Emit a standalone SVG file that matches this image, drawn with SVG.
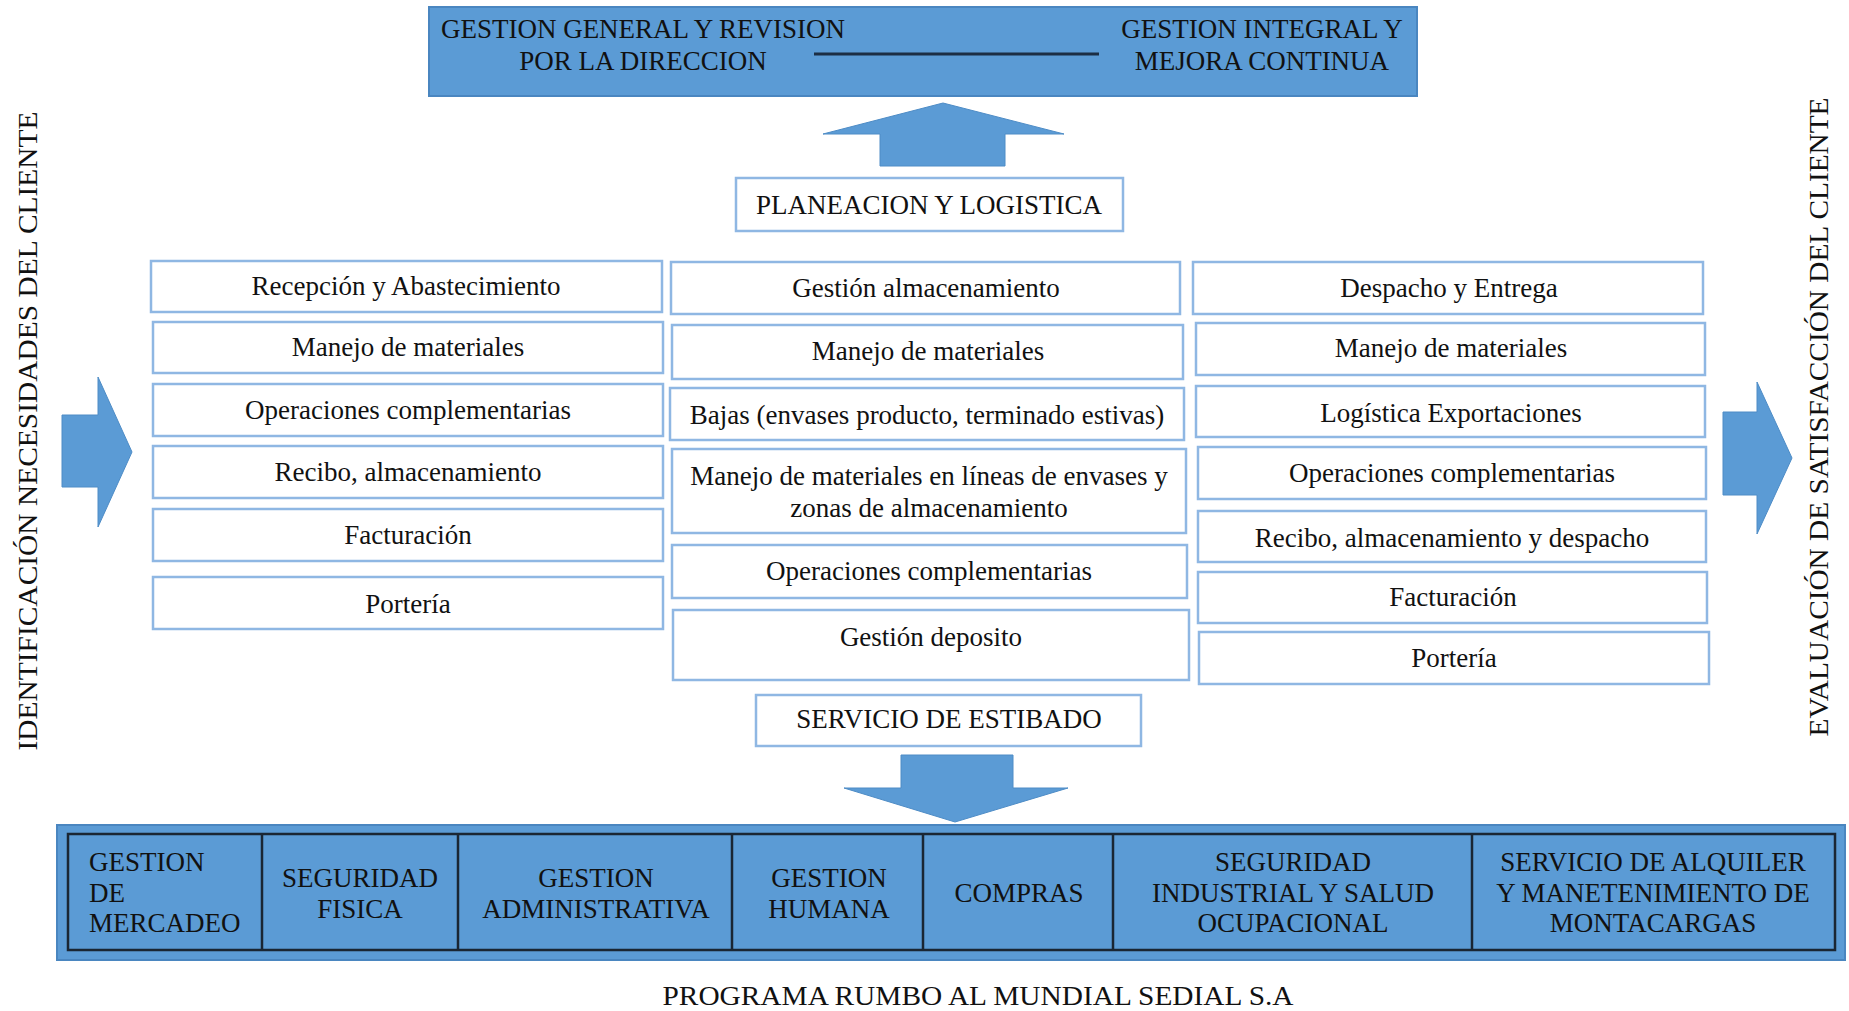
<svg xmlns="http://www.w3.org/2000/svg" width="1849" height="1011" viewBox="0 0 1849 1011">
<style>
text{font-family:"Liberation Serif","Times New Roman",serif;fill:#111;}
.t{font-size:27px;text-anchor:middle;dominant-baseline:central;}
.c{font-size:27px;text-anchor:middle;dominant-baseline:central;}
.box{fill:#fff;stroke:#8fb7e3;stroke-width:2.5;}
.band{fill:#5b9bd5;stroke:#4a86c0;stroke-width:2;}
.arr{fill:#5b9bd5;stroke:#4e8cc6;stroke-width:1;}
.cell{fill:none;stroke:#1a2633;stroke-width:2.5;}
</style>
<g id="top">
<rect class="band" x="429" y="7" width="988" height="89"/>
<line x1="814" y1="54" x2="1099" y2="54" stroke="#1c2e44" stroke-width="3"/>
<text class="t" x="643" y="29">GESTION GENERAL Y REVISION</text>
<text class="t" x="643" y="61">POR LA DIRECCION</text>
<text class="t" x="1262" y="29">GESTION INTEGRAL Y</text>
<text class="t" x="1262" y="61">MEJORA CONTINUA</text>
</g>
<g id="connectors">
<polygon class="arr" points="943,103 1064,134 1005,134 1005,166 880,166 880,134 823,134"/>
<polygon class="arr" points="901,755 1013,755 1013,788 1068,788 955,822 844,788 901,788"/>
<polygon class="arr" points="62,415 98,415 98,377 132,452 98,527 98,487 62,487"/>
<polygon class="arr" points="1723,412 1757,412 1757,382 1792,458 1757,534 1757,495 1723,495"/>
</g>
<g id="planeacion">
<rect class="box" x="736" y="178" width="387" height="53"/>
<text class="t" x="929" y="205">PLANEACION Y LOGISTICA</text>
</g>
<g id="left-col">
<g id="l1"><rect class="box" x="151" y="261" width="511" height="51"/><text class="t" x="406" y="286">Recepción y Abastecimiento</text></g>
<g id="l2"><rect class="box" x="153" y="322" width="510" height="51"/><text class="t" x="408" y="347">Manejo de materiales</text></g>
<g id="l3"><rect class="box" x="153" y="384" width="510" height="52"/><text class="t" x="408" y="410">Operaciones complementarias</text></g>
<g id="l4"><rect class="box" x="153" y="446" width="510" height="52"/><text class="t" x="408" y="472">Recibo, almacenamiento</text></g>
<g id="l5"><rect class="box" x="153" y="509" width="510" height="52"/><text class="t" x="408" y="535">Facturación</text></g>
<g id="l6"><rect class="box" x="153" y="577" width="510" height="52"/><text class="t" x="408" y="604">Portería</text></g>
</g>
<g id="mid-col">
<g id="m1"><rect class="box" x="671" y="262" width="509" height="52"/><text class="t" x="926" y="288">Gestión almacenamiento</text></g>
<g id="m2"><rect class="box" x="672" y="325" width="511" height="54"/><text class="t" x="928" y="351">Manejo de materiales</text></g>
<g id="m3"><rect class="box" x="670" y="388" width="514" height="52"/><text class="t" x="927" y="415">Bajas (envases producto, terminado estivas)</text></g>
<g id="m4"><rect class="box" x="672" y="449" width="514" height="84"/><text class="t" x="929" y="476">Manejo de materiales en líneas de envases y</text><text class="t" x="929" y="508">zonas de almacenamiento</text></g>
<g id="m5"><rect class="box" x="672" y="545" width="515" height="53"/><text class="t" x="929" y="571">Operaciones complementarias</text></g>
<g id="m6"><rect class="box" x="673" y="610" width="516" height="70"/><text class="t" x="931" y="637">Gestión deposito</text></g>
</g>
<g id="right-col">
<g id="r1"><rect class="box" x="1193" y="262" width="510" height="52"/><text class="t" x="1449" y="288">Despacho y Entrega</text></g>
<g id="r2"><rect class="box" x="1196" y="323" width="509" height="52"/><text class="t" x="1451" y="348">Manejo de materiales</text></g>
<g id="r3"><rect class="box" x="1196" y="386" width="509" height="51"/><text class="t" x="1451" y="413">Logística Exportaciones</text></g>
<g id="r4"><rect class="box" x="1198" y="447" width="508" height="52"/><text class="t" x="1452" y="473">Operaciones complementarias</text></g>
<g id="r5"><rect class="box" x="1198" y="511" width="508" height="51"/><text class="t" x="1452" y="538">Recibo, almacenamiento y despacho</text></g>
<g id="r6"><rect class="box" x="1198" y="572" width="509" height="51"/><text class="t" x="1453" y="597">Facturación</text></g>
<g id="r7"><rect class="box" x="1199" y="632" width="510" height="52"/><text class="t" x="1454" y="658">Portería</text></g>
</g>
<g id="estibado">
<rect class="box" x="756" y="695" width="385" height="51"/>
<text class="t" x="949" y="719">SERVICIO DE ESTIBADO</text>
</g>
<g id="bottom">
<rect class="band" x="57" y="825" width="1788" height="135"/>
<rect class="cell" x="68" y="834" width="1767" height="116"/>
<line class="cell" x1="262" y1="834" x2="262" y2="950"/>
<line class="cell" x1="458" y1="834" x2="458" y2="950"/>
<line class="cell" x1="732" y1="834" x2="732" y2="950"/>
<line class="cell" x1="923" y1="834" x2="923" y2="950"/>
<line class="cell" x1="1113" y1="834" x2="1113" y2="950"/>
<line class="cell" x1="1472" y1="834" x2="1472" y2="950"/>
<g id="b1"><text class="c" x="89" y="862" style="text-anchor:start">GESTION</text><text class="c" x="89" y="893" style="text-anchor:start">DE</text><text class="c" x="89" y="923" style="text-anchor:start">MERCADEO</text></g>
<g id="b2"><text class="c" x="360" y="878">SEGURIDAD</text><text class="c" x="360" y="909">FISICA</text></g>
<g id="b3"><text class="c" x="596" y="878">GESTION</text><text class="c" x="596" y="909">ADMINISTRATIVA</text></g>
<g id="b4"><text class="c" x="829" y="878">GESTION</text><text class="c" x="829" y="909">HUMANA</text></g>
<g id="b5"><text class="c" x="1019" y="893">COMPRAS</text></g>
<g id="b6"><text class="c" x="1293" y="862">SEGURIDAD</text><text class="c" x="1293" y="893">INDUSTRIAL Y SALUD</text><text class="c" x="1293" y="923">OCUPACIONAL</text></g>
<g id="b7"><text class="c" x="1653" y="862">SERVICIO DE ALQUILER</text><text class="c" x="1653" y="893">Y MANETENIMIENTO DE</text><text class="c" x="1653" y="923">MONTACARGAS</text></g>
</g>
<g id="caption">
<text class="t" x="978" y="996" textLength="631" lengthAdjust="spacingAndGlyphs">PROGRAMA RUMBO AL MUNDIAL SEDIAL S.A</text>
</g>
<g id="left-label">
<text class="t" transform="translate(28,431) rotate(-90)" x="0" y="0" textLength="639" lengthAdjust="spacingAndGlyphs">IDENTIFICACIÓN NECESIDADES DEL CLIENTE</text>
</g>
<g id="right-label">
<text class="t" transform="translate(1819,417) rotate(-90)" x="0" y="0" textLength="639" lengthAdjust="spacingAndGlyphs">EVALUACIÓN DE SATISFACCIÓN DEL CLIENTE</text>
</g>
</svg>
